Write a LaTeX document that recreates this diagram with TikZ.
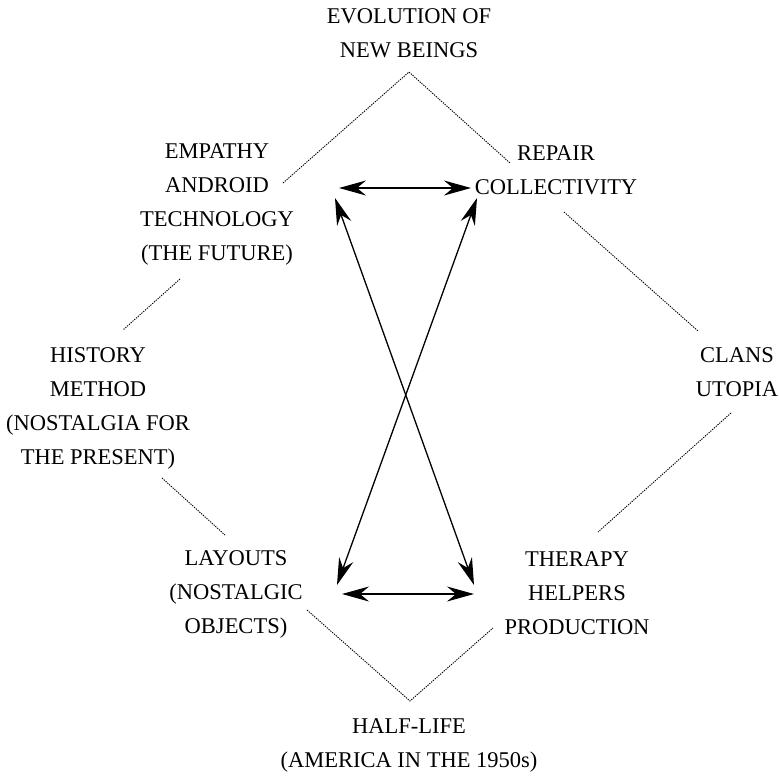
\documentclass[tikz,border=0pt]{standalone}
\usepackage{fontspec}
\setmainfont{Liberation Serif}
\usetikzlibrary{arrows.meta}
\begin{document}
\begin{tikzpicture}[x=1pt,y=-1pt,
  concept/.style={align=center, inner sep=0pt, font=\fontsize{22.5}{34}\selectfont},
  link/.style={line width=0.9pt, dash pattern=on 1.3pt off 1.1pt},
  tip/.style={Stealth[length=27pt,width=15pt,inset=9pt]},
  rel/.style={line width=1.3pt, {Stealth[length=27pt,width=15pt,inset=9pt]}-{Stealth[length=27pt,width=15pt,inset=9pt]}}]
\useasboundingbox (0,0) rectangle (779,777);

% concepts
\node[concept] (evol) at (409,33.5) {EVOLUTION OF\\NEW BEINGS};
\node[concept] (empathy) at (217,204) {EMPATHY\\ANDROID\\TECHNOLOGY\\(THE FUTURE)};
\node[concept] (repair) at (556,170) {REPAIR\\COLLECTIVITY};
\node[concept] (history) at (98,408) {HISTORY\\METHOD\\(NOSTALGIA FOR\\THE PRESENT)};
\node[concept] (clans) at (737,372) {CLANS\\UTOPIA};
\node[concept] (layouts) at (236,594) {LAYOUTS\\(NOSTALGIC\\OBJECTS)};
\node[concept] (therapy) at (577,593) {THERAPY\\HELPERS\\PRODUCTION};
\node[concept] (half) at (409,745) {HALF-LIFE\\(AMERICA IN THE 1950s)};

% dotted link ends
\coordinate (apexT) at (409,72);
\coordinate (apexB) at (410,701);
\coordinate (b1) at (283,183);
\coordinate (c1) at (510,163);
\coordinate (b2) at (180,279);
\coordinate (d1) at (123,330);
\coordinate (c2) at (564,212);
\coordinate (e1) at (698,331);
\coordinate (e2) at (731,413);
\coordinate (g1) at (598,532);
\coordinate (d2) at (162,478);
\coordinate (f1) at (225,535);
\coordinate (f2) at (307,610);
\coordinate (g2) at (493,628);

\draw[link] (b1) -- (apexT) -- (c1);
\draw[link] (b2) -- (d1);
\draw[link] (c2) -- (e1);
\draw[link] (e2) -- (g1);
\draw[link] (d2) -- (f1);
\draw[link] (f2) -- (apexB) -- (g2);

% arrow ends
\coordinate (hTL) at (339,188);
\coordinate (hTR) at (471,188);
\coordinate (hBL) at (342,594);
\coordinate (hBR) at (474,594);
\coordinate (dTL) at (335,198);
\coordinate (dTR) at (477,198);
\coordinate (dBL) at (337,585);
\coordinate (dBR) at (474,585);

\draw[rel] (hTL) -- (hTR);
\draw[rel] (hBL) -- (hBR);
\draw[rel] (dTL) -- (dBR);
\draw[rel] (dTR) -- (dBL);
\end{tikzpicture}
\end{document}
